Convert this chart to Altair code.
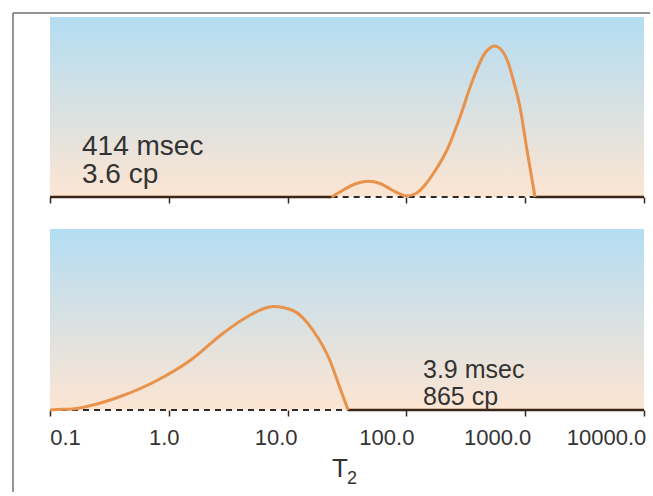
import altair as alt
import pandas as pd

# ---------------- data ----------------
T2_TICKS = [0.1, 1, 10, 100, 1000, 10000]
TICK_LABELS = ["0.1", "1.0", "10.0", "100.0", "1000.0", "10000.0"]
AXIS_TITLE = "T"
AXIS_TITLE_SUB = "2"

# top panel: 414 msec / 3.6 cp
TOP_T2 = [23.5, 30.4, 36.9, 47.5, 60.0, 75.6, 88.3, 99.3, 118, 143.5, 167.5,
          219.6, 282.7, 356.5, 459, 505, 546, 590, 650, 716, 789.0, 903.6, 1035, 1210]
TOP_AMP = [0, 8, 13, 15.7, 13.5, 7, 3, 1, 3, 12, 23,
           47, 80, 115, 144, 149, 151, 150, 145, 135, 118, 90, 47, 0]
TOP_NOTE = ["414 msec", "3.6 cp"]
TOP_NOTE_T2 = 0.186
TOP_NOTE_AMP = 42

# bottom panel: 3.9 msec / 865 cp
BOT_T2 = [0.1, 0.106, 0.156, 0.230, 0.412, 0.795, 1.51, 2.85, 4.54, 7.55,
          11.1, 16.4, 22.7, 27.5, 32.3]
BOT_AMP = [0, 0.3, 1, 5, 14.5, 29.5, 49.5, 76.5, 93, 103.5,
           99.5, 79.5, 49.5, 22.5, 0]
BOT_NOTE = ["3.9 msec", "865 cp"]
BOT_NOTE_T2 = 138
BOT_NOTE_AMP = 32

# ---------------- style ----------------
FONT = "Liberation Sans"
TEXT_COLOR = "#333333"
CURVE_COLOR = "#e8924c"
AXIS_COLOR = "#3b2418"
FRAME_COLOR = "#707070"
LABEL_SHIFT = [15, -5, -12, -20, -28, -38]

W = 594
H_TOP = 180
H_BOT = 181

x_scale = alt.Scale(type="log", domain=[T2_TICKS[0], T2_TICKS[-1]], nice=False)

gradient = alt.LinearGradient(
    gradient="linear",
    stops=[alt.GradientStop(color="#b3ddf3", offset=0),
           alt.GradientStop(color="#fde5d2", offset=1)],
    x1=0, x2=0, y1=0, y2=1,
)

label_expr = " : ".join(
    f"datum.value < {v * 3.0} ? '{lab}'" for v, lab in zip(T2_TICKS[:-1], TICK_LABELS[:-1])
) + f" : '{TICK_LABELS[-1]}'"

label_offset = {
    "condition": [
        {"test": f"datum.value < {v * 3.0}", "value": s}
        for v, s in zip(T2_TICKS[:-1], LABEL_SHIFT[:-1])
    ],
    "value": LABEL_SHIFT[-1],
}


def make_axis(show_labels):
    kw = dict(
        values=T2_TICKS,
        domain=False,
        grid=False,
        ticks=True,
        tickSize=6,
        tickWidth=1.5,
        tickColor=AXIS_COLOR,
        title=None,
    )
    if show_labels:
        kw.update(
            labels=True,
            labelExpr=label_expr,
            labelFont=FONT,
            labelFontSize=22,
            labelColor=TEXT_COLOR,
            labelPadding=11,
            labelFlush=False,
            labelOverlap=False,
            labelAlign="center",
            labelOffset=label_offset,
        )
    else:
        kw.update(labels=False)
    return alt.Axis(**kw)


def panel(t2, amp, notes, note_t2, note_amp, height, show_labels, note_size, line_h):
    y_scale = alt.Scale(domain=[0, height], nice=False, zero=True)
    axis = make_axis(show_labels)

    lo, hi = t2[0], t2[-1]
    segs = []
    if lo > T2_TICKS[0]:
        segs.append({"a": T2_TICKS[0], "b": lo, "kind": "solid"})
    segs.append({"a": lo, "b": hi, "kind": "dash"})
    if hi < T2_TICKS[-1]:
        segs.append({"a": hi, "b": T2_TICKS[-1], "kind": "solid"})
    seg_df = pd.DataFrame(segs)
    seg_df["y"] = 0
    solid_df = seg_df[seg_df.kind == "solid"]
    dash_df = seg_df[seg_df.kind == "dash"]

    bg_df = pd.DataFrame({"a": [T2_TICKS[0]], "b": [T2_TICKS[-1]], "y0": [0], "y1": [height]})
    curve_df = pd.DataFrame({"a": t2, "amp": amp})
    note_df = pd.DataFrame({"a": [note_t2], "amp": [note_amp], "txt": ["\n".join(notes)]})

    X = alt.X("a:Q", scale=x_scale, axis=axis)

    bg = alt.Chart(bg_df).mark_rect(fill=gradient, strokeWidth=0).encode(
        x=X, x2="b:Q",
        y=alt.Y("y0:Q", scale=y_scale, axis=None), y2="y1:Q",
    )
    solid = alt.Chart(solid_df).mark_rule(color=AXIS_COLOR, strokeWidth=2.5).encode(
        x=X, x2="b:Q",
        y=alt.Y("y:Q", scale=y_scale, axis=None),
    )
    dashed = alt.Chart(dash_df).mark_rule(color="#2b2b2b", strokeWidth=2,
                                          strokeDash=[6, 5]).encode(
        x=X, x2="b:Q",
        y=alt.Y("y:Q", scale=y_scale, axis=None),
    )
    curve = alt.Chart(curve_df).mark_line(color=CURVE_COLOR, strokeWidth=3,
                                          interpolate="monotone").encode(
        x=X,
        y=alt.Y("amp:Q", scale=y_scale, axis=None),
        order="a:Q",
    )
    text = alt.Chart(note_df).mark_text(align="left", baseline="alphabetic",
                                        font=FONT, fontSize=note_size,
                                        lineBreak="\n", lineHeight=line_h,
                                        color=TEXT_COLOR).encode(
        x=X,
        y=alt.Y("amp:Q", scale=y_scale, axis=None),
        text="txt:N",
    )
    return [bg, solid, dashed, curve, text]


top_layers = panel(TOP_T2, TOP_AMP, TOP_NOTE, TOP_NOTE_T2, TOP_NOTE_AMP, H_TOP, False, 28, 28)
bot_layers = panel(BOT_T2, BOT_AMP, BOT_NOTE, BOT_NOTE_T2, BOT_NOTE_AMP, H_BOT, True, 25, 27)

# axis title "T" with subscript "2", placed under the bottom axis
title_df = pd.DataFrame({"t": [AXIS_TITLE], "s": [AXIS_TITLE_SUB]})
title_main = alt.Chart(title_df).mark_text(
    font=FONT, fontSize=26, color=TEXT_COLOR, align="center", baseline="alphabetic"
).encode(text="t:N", x=alt.value(290), y=alt.value(H_BOT + 67))
title_sub = alt.Chart(title_df).mark_text(
    font=FONT, fontSize=18, color=TEXT_COLOR, align="left", baseline="alphabetic"
).encode(text="s:N", x=alt.value(297), y=alt.value(H_BOT + 74))

# figure frame (left and top edges of the surrounding box)
frame_left = alt.Chart(pd.DataFrame({"k": [0]})).mark_rule(
    color=FRAME_COLOR, strokeWidth=1.5).encode(
    x=alt.value(-37), y=alt.value(-4), y2=alt.value(475))
frame_top = alt.Chart(pd.DataFrame({"k": [0]})).mark_rule(
    color=FRAME_COLOR, strokeWidth=1.5).encode(
    x=alt.value(-37), x2=alt.value(600), y=alt.value(-4))

top = alt.layer(*top_layers, frame_left, frame_top).properties(width=W, height=H_TOP)
bottom = alt.layer(*bot_layers, title_main, title_sub).properties(width=W, height=H_BOT)

chart = alt.vconcat(top, bottom, spacing=32, bounds="flush").properties(
    padding={"left": 12, "top": 12, "right": 0, "bottom": 0},
    background="white",
).configure_view(stroke=None)

chart.save("out.html", embed_options={"renderer": "svg", "actions": False})
